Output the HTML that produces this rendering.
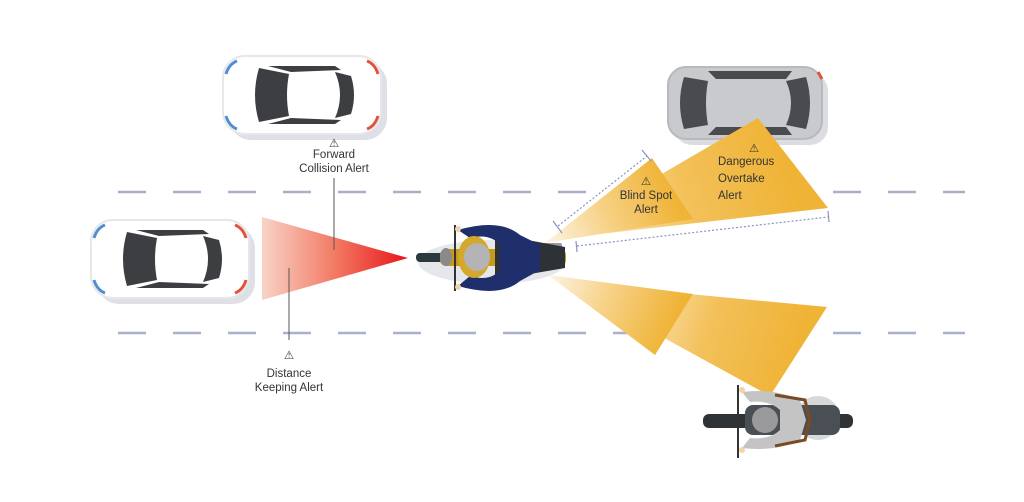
<!DOCTYPE html>
<html><head><meta charset="utf-8"><style>
html,body{margin:0;padding:0;background:#fff;}
svg{display:block}
text{font-family:"Liberation Sans",sans-serif;font-size:11.5px;fill:#333;}
</style></head><body>
<svg width="1024" height="502" viewBox="0 0 1024 502" xmlns="http://www.w3.org/2000/svg">
<defs>
<linearGradient id="red" x1="262" y1="0" x2="408" y2="0" gradientUnits="userSpaceOnUse">
<stop offset="0" stop-color="#f8d3c8"/><stop offset="0.5" stop-color="#f27a63"/><stop offset="1" stop-color="#e8141b"/></linearGradient>
<linearGradient id="y1" x1="548" y1="242" x2="672" y2="188" gradientUnits="userSpaceOnUse">
<stop offset="0" stop-color="#fdf3e0"/><stop offset="0.5" stop-color="#f6cf80"/><stop offset="1" stop-color="#efb335"/></linearGradient>
<linearGradient id="y2" x1="560" y1="238" x2="790" y2="165" gradientUnits="userSpaceOnUse">
<stop offset="0" stop-color="#fdf3e0"/><stop offset="0.55" stop-color="#f3c15a"/><stop offset="1" stop-color="#efb335"/></linearGradient>
<linearGradient id="y3" x1="550" y1="276" x2="674" y2="324" gradientUnits="userSpaceOnUse">
<stop offset="0" stop-color="#fdf3e0"/><stop offset="0.5" stop-color="#f6cf80"/><stop offset="1" stop-color="#efb335"/></linearGradient>
<linearGradient id="y4" x1="600" y1="290" x2="800" y2="350" gradientUnits="userSpaceOnUse">
<stop offset="0" stop-color="#fdf3e0"/><stop offset="0.55" stop-color="#f3c15a"/><stop offset="1" stop-color="#efb335"/></linearGradient>
<g id="car">
<rect x="6" y="6" width="158" height="78" rx="22" fill="#dfe0e5"/>
<rect x="0" y="0" width="158" height="78" rx="22" fill="#fff" stroke="#e6e7ec" stroke-width="2"/>
<path d="M3 18 Q6 8 14 5" stroke="#4f8fd0" stroke-width="3" fill="none"/>
<path d="M3 60 Q6 70 14 73" stroke="#4f8fd0" stroke-width="3" fill="none"/>
<path d="M155 18 Q152 8 144 5" stroke="#e0533a" stroke-width="3" fill="none"/>
<path d="M155 60 Q152 70 144 73" stroke="#e0533a" stroke-width="3" fill="none"/>
<path d="M36 12 Q28 39 36 66 L66 60 Q62 39 66 18 Z" fill="#3d3e42"/>
<path d="M112 16 Q122 39 112 62 L128 58 Q134 39 128 20 Z" fill="#3d3e42"/>
<path d="M45 10 L112 10 L118 14 L68 16 Z" fill="#3d3e42"/>
<path d="M45 68 L112 68 L118 64 L68 62 Z" fill="#3d3e42"/>
</g>
</defs>

<line x1="118" y1="192" x2="965" y2="192" stroke="#a9b0cc" stroke-width="2.5" stroke-dasharray="28,27"/>
<line x1="118" y1="333" x2="965" y2="333" stroke="#a9b0cc" stroke-width="2.5" stroke-dasharray="28,27"/>

<use href="#car" x="223" y="56"/>
<use href="#car" x="91" y="220"/>
<g transform="translate(668,67)">
<rect x="6" y="6" width="154" height="72" rx="18" fill="#dcdde2"/>
<rect x="0" y="0" width="154" height="72" rx="18" fill="#c9cacd" stroke="#b8b9bd" stroke-width="2"/>
<path d="M16 10 Q8 36 16 62 L40 58 Q36 36 40 14 Z" fill="#4a4b4f"/>
<path d="M118 14 Q128 36 118 58 L138 62 Q146 36 138 10 Z" fill="#4a4b4f"/>
<path d="M40 4 L124 4 L118 12 L48 12 Z" fill="#4a4b4f"/>
<path d="M40 68 L124 68 L118 60 L48 60 Z" fill="#4a4b4f"/>
<path d="M150 5 L154 12" stroke="#e0533a" stroke-width="3"/>
</g>

<polygon points="262,217 408,258 262,300" fill="url(#red)"/>

<polygon points="548,240 758,118 828,208" fill="url(#y2)"/>
<polygon points="545,243 652,158 693,219" fill="url(#y1)"/>
<polygon points="562,282 827,307 770,396" fill="url(#y4)"/>
<polygon points="548,275 693,294 655,355" fill="url(#y3)"/>

<g stroke="#8a93c0" stroke-width="1.2" fill="none">
<line x1="558" y1="226" x2="647" y2="156" stroke-dasharray="2,2"/>
<line x1="553" y1="221" x2="562" y2="233"/>
<line x1="642" y1="150" x2="651" y2="161"/>
<line x1="577" y1="246" x2="828" y2="217" stroke-dasharray="2,2"/>
<line x1="576" y1="241" x2="577" y2="252"/>
<line x1="828" y1="211" x2="829" y2="222"/>
</g>

<line x1="334" y1="178" x2="334" y2="250" stroke="#555" stroke-width="1"/>
<line x1="289" y1="268" x2="289" y2="340" stroke="#555" stroke-width="1"/>

<g>
<ellipse cx="492" cy="262" rx="74" ry="22" fill="#e6e7ea"/>
<rect x="416" y="253" width="30" height="9" rx="4" fill="#2a3a3e"/>
<rect x="440" y="249" width="126" height="17" rx="6" fill="#c79a1e"/>
<rect x="530" y="243" width="32" height="6" rx="2" fill="#9a9a9a"/>
<path d="M495 234 L565 247 L565 268 L495 280 Z" fill="#2c3235"/>
<path d="M458 230 Q500 218 520 235 L540 245 L540 270 L520 281 Q500 298 458 286 L470 276 Q490 282 500 270 L500 245 Q490 233 470 238 Z" fill="#1f2f6b"/>
<line x1="455" y1="225" x2="455" y2="291" stroke="#333" stroke-width="2"/>
<ellipse cx="474" cy="257" rx="16" ry="21" fill="#d4a82a"/>
<ellipse cx="477" cy="257" rx="13" ry="14" fill="#b4b4b6"/>
<ellipse cx="446" cy="257" rx="6" ry="9" fill="#8a8a8a"/>
<circle cx="458" cy="229" r="3" fill="#f3d3a8"/>
<circle cx="458" cy="287" r="3" fill="#f3d3a8"/>
</g>

<g>
<circle cx="818" cy="418" r="22" fill="#d7d8da"/>
<rect x="703" y="414" width="150" height="14" rx="6" fill="#2f3336"/>
<rect x="745" y="405" width="95" height="30" rx="8" fill="#4a4f55"/>
<path d="M742 392 Q775 388 800 400 L806 420 L800 440 Q775 452 742 448 L750 438 Q770 440 780 430 L780 410 Q770 400 750 402 Z" fill="#c4c4c4"/>
<path d="M775 395 L805 400 L810 420 L805 440 L775 446" stroke="#7a4a20" stroke-width="3" fill="none"/>
<line x1="738" y1="385" x2="738" y2="458" stroke="#333" stroke-width="2"/>
<circle cx="765" cy="420" r="13" fill="#9a9a9c"/>
<circle cx="742" cy="390" r="3" fill="#f3d3a8"/>
<circle cx="742" cy="450" r="3" fill="#f3d3a8"/>
</g>

<g text-anchor="middle">
<text x="334" y="147" font-size="12">⚠</text>
<text x="334" y="158">Forward</text>
<text x="334" y="172">Collision Alert</text>
<text x="289" y="359" font-size="12">⚠</text>
<text x="289" y="377">Distance</text>
<text x="289" y="391">Keeping Alert</text>
<text x="646" y="185" font-size="12">⚠</text>
<text x="646" y="199">Blind Spot</text>
<text x="646" y="213">Alert</text>
<text x="754" y="152" font-size="12">⚠</text>
</g>
<text x="718" y="165">Dangerous</text>
<text x="718" y="182">Overtake</text>
<text x="718" y="199">Alert</text>
</svg>
</body></html>
